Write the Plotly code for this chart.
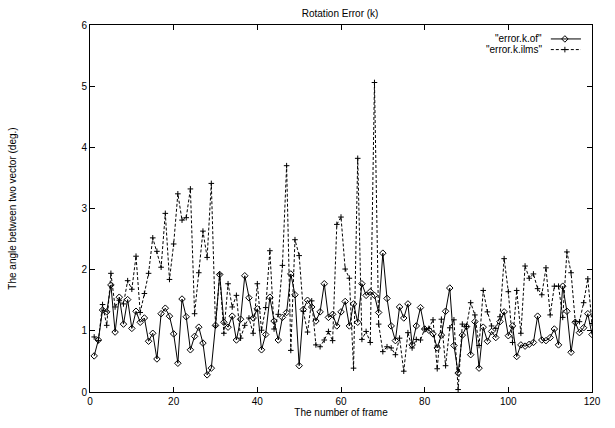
import plotly.graph_objects as go

frames = list(range(1, 121))

error_k_of = [
    0.59, 0.85, 1.34, 1.31, 1.75, 0.98, 1.55, 1.11, 1.51, 1.04,
    1.32, 1.14, 1.21, 0.83, 0.96, 0.54, 1.28, 1.37, 1.24, 0.95,
    0.47, 1.52, 1.23, 0.69, 0.91, 1.06, 0.80, 0.28, 0.39, 1.09,
    1.92, 1.14, 1.06, 1.24, 0.85, 1.19, 1.90, 1.54, 1.21, 1.36,
    0.69, 0.94, 1.55, 1.16, 0.85, 1.22, 1.30, 1.93, 1.59, 0.43,
    1.35, 1.50, 1.39, 1.16, 1.31, 1.77, 1.22, 1.27, 1.08, 1.31,
    1.48, 1.08, 1.44, 1.14, 1.77, 1.58, 1.64, 1.58, 1.30, 2.27,
    1.53, 1.08, 0.84, 1.39, 1.21, 1.44, 0.77, 1.08, 1.38, 1.03,
    1.01, 0.95, 0.72, 0.93, 1.32, 1.70, 0.76, 0.31, 0.93, 1.07,
    0.61, 1.15, 0.39, 1.06, 0.83, 0.99, 0.89, 1.15, 1.31, 0.92,
    1.08, 0.58, 0.77, 0.75, 0.78, 0.81, 1.24, 0.85, 0.84, 0.89,
    1.03, 0.77, 1.73, 1.32, 0.65, 1.14, 0.97, 1.05, 1.28, 0.94,
]

error_k_ilms = [
    0.90, 0.84, 1.43, 1.09, 1.94, 1.39, 1.50, 1.44, 1.82, 1.68,
    2.22, 1.30, 1.61, 1.94, 2.52, 2.30, 2.04, 2.92, 1.84, 2.42,
    3.24, 2.81, 2.85, 3.32, 1.28, 1.95, 2.63, 2.20, 3.41, 1.08,
    1.93, 0.96, 1.77, 1.39, 1.58, 0.88, 1.09, 1.21, 0.96, 1.77,
    1.01, 1.38, 2.31, 1.03, 1.27, 2.07, 3.70, 0.68, 2.49, 2.23,
    1.32, 0.98, 1.49, 0.77, 0.74, 0.85, 0.99, 0.84, 2.74, 2.86,
    2.01, 1.86, 0.39, 3.82, 0.86, 0.99, 0.81, 5.06, 1.11, 0.66,
    0.74, 0.72, 0.61, 0.88, 0.34, 0.97, 0.72, 0.86, 0.85, 1.03,
    1.04, 1.18, 0.38, 1.19, 0.43, 1.05, 1.18, 0.04, 1.11, 1.07,
    1.46, 1.26, 0.76, 1.66, 1.31, 1.08, 1.04, 1.23, 2.18, 1.64,
    0.81, 1.66, 0.96, 2.06, 1.86, 1.93, 1.69, 1.59, 2.03, 1.26,
    1.73, 1.73, 1.22, 2.29, 1.95, 1.15, 1.15, 1.46, 1.85, 1.12,
]

legend_labels = ['"error.k.of"', '"error.k.ilms"']
x_ticks = [0, 20, 40, 60, 80, 100, 120]
y_ticks = [0, 1, 2, 3, 4, 5, 6]

FONT = "Liberation Sans, Arial, sans-serif"
DASH = "3px,2px"
DIAMOND = dict(symbol="diamond-open", size=5, color="black", line=dict(width=1, color="black"))
PLUS = dict(symbol="cross-thin-open", size=4, color="black", line=dict(width=1, color="black"))

fig = go.Figure()
fig.add_trace(go.Scatter(
    x=frames, y=error_k_of, mode="lines+markers", name=legend_labels[0],
    line=dict(color="black", width=1), marker=DIAMOND, showlegend=False,
))
fig.add_trace(go.Scatter(
    x=frames, y=error_k_ilms, mode="lines+markers", name=legend_labels[1],
    line=dict(color="black", width=1, dash=DASH), marker=PLUS, showlegend=False,
))

# legend keys (gnuplot style: label right-aligned, sample to the right) on overlay axes
key_x = [0.918, 0.978]
key_mid = [0.946]
key_y = [0.962, 0.933]
fig.add_trace(go.Scatter(x=key_x, y=[key_y[0]] * 2, mode="lines", xaxis="x2", yaxis="y2",
                         line=dict(color="black", width=1), showlegend=False, hoverinfo="skip"))
fig.add_trace(go.Scatter(x=key_mid, y=[key_y[0]], mode="markers", xaxis="x2", yaxis="y2",
                         marker=DIAMOND, showlegend=False, hoverinfo="skip"))
fig.add_trace(go.Scatter(x=key_x, y=[key_y[1]] * 2, mode="lines", xaxis="x2", yaxis="y2",
                         line=dict(color="black", width=1, dash=DASH), showlegend=False, hoverinfo="skip"))
fig.add_trace(go.Scatter(x=key_mid, y=[key_y[1]], mode="markers", xaxis="x2", yaxis="y2",
                         marker=PLUS, showlegend=False, hoverinfo="skip"))

for lab, yy in zip(legend_labels, key_y):
    fig.add_annotation(x=0.905, y=yy, xref="x2", yref="y2", text=lab, showarrow=False,
                       xanchor="right", yanchor="middle", font=dict(family=FONT, size=10, color="black"))

axis_common = dict(
    showgrid=False, zeroline=False, showline=True, linecolor="black", linewidth=1,
    mirror="ticks", ticks="inside", ticklen=5, tickcolor="black", tickwidth=1,
    tickfont=dict(family=FONT, size=10, color="black"),
)

fig.update_layout(
    width=615, height=428,
    margin=dict(l=87, r=23, t=25, b=33),
    paper_bgcolor="white", plot_bgcolor="white",
    font=dict(family=FONT, size=10, color="black"),
    title=dict(text="Rotation Error (k)", x=0.553, xanchor="center", y=0.968, yanchor="middle",
               font=dict(family=FONT, size=10, color="black")),
    xaxis=dict(range=[0, 120], tickvals=x_ticks,
               title=dict(text="The number of frame", standoff=2, font=dict(family=FONT, size=10)),
               **axis_common),
    yaxis=dict(range=[0, 6], tickvals=y_ticks,
               title=dict(text="The angle between two vector (deg.)", standoff=62, font=dict(family=FONT, size=10)),
               **axis_common),
    xaxis2=dict(range=[0, 1], overlaying="x", visible=False, fixedrange=True),
    yaxis2=dict(range=[0, 1], overlaying="y", visible=False, fixedrange=True),
    showlegend=False,
)

fig.write_html("out.html")
